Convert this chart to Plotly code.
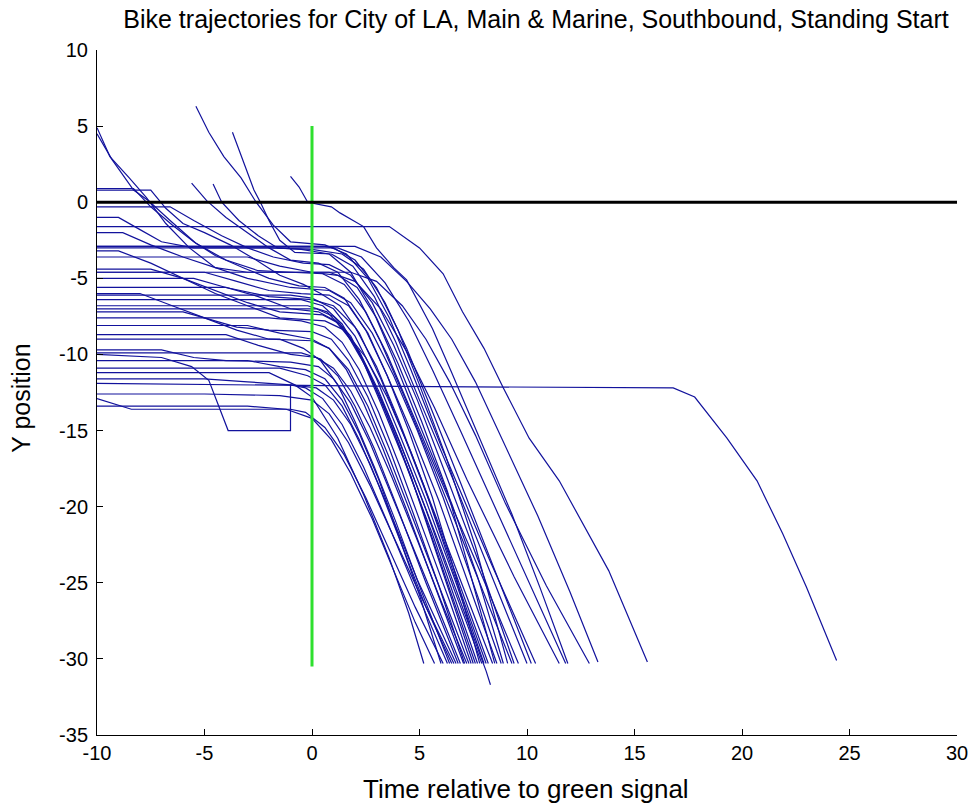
import plotly.graph_objects as go

# ---- data ----
x_ticks = [-10, -5, 0, 5, 10, 15, 20, 25, 30]
y_ticks = [-35, -30, -25, -20, -15, -10, -5, 0, 5, 10]

green_t = [0, 0]
green_y = [5, -30.5]
stop_t = [-10, 30]
stop_y = [0, 0]

t01 = [-10, 4, 16.8, 17.8, 19.3, 20.7, 21.9, 23.0, 24.4]
y01 = [-11.9, -12.1, -12.2, -12.8, -15.5, -18.3, -21.8, -25.3, -30.1]
t02 = [-10, 3.6, 5.0, 6.1, 7.0, 8.0, 8.9, 10.1, 11.5, 12.6, 13.8, 15.6]
y02 = [-1.6, -1.6, -3.0, -4.7, -7.2, -9.6, -12.2, -15.5, -18.3, -21.1, -24.2, -30.2]
t03 = [-10, 2.0, 3.2, 4.4, 5.5, 6.5, 7.6, 9.0, 10.5, 12.0, 13.3]
y03 = [-2.9, -2.9, -3.6, -5.2, -7.0, -9.0, -11.8, -16.0, -20.6, -25.6, -30.2]
t04 = [-10, 1.8, 3.0, 4.2, 5.3, 6.4, 7.6, 9.0, 10.9, 12.9]
y04 = [-4.6, -4.6, -5.2, -6.8, -9.0, -11.8, -15.3, -19.8, -25.2, -30.3]
t05 = [-1.0, -0.6, -0.2, 0.9, 1.3, 2.4, 3.0, 3.8, 4.4, 4.9, 5.6, 6.5, 7.8, 9.3, 10.6, 11.9]
y05 = [1.7, 1.0, 0.0, -0.3, -0.7, -1.6, -3.0, -4.3, -5.1, -6.4, -8.3, -11.2, -15.5, -20.5, -25.3, -30.3]
t06 = [-10, 1.2, 2.3, 3.4, 4.5, 5.6, 6.9, 8.5, 10.2, 11.8]
y06 = [-3.0, -3.0, -3.6, -5.3, -7.8, -11.0, -15.0, -20.0, -25.4, -30.3]
t07 = [-10, -9.4, -8.5, -7.7, -6.8, -5.7, -4.5, -3.0, 0.8, 2.0, 3.2, 4.4, 5.7, 7.2, 9.4, 11.5]
y07 = [4.9, 3.0, 1.6, 0.3, -1.4, -3.0, -4.3, -4.6, -4.6, -5.2, -7.0, -9.8, -13.5, -18.2, -24.6, -30.3]
t08 = [-5.4, -4.8, -4.1, -3.3, -2.6, -1.8, -1.0, 0.6, 1.6, 2.6, 3.6, 4.6, 6.0, 8.2, 10.4]
y08 = [6.3, 4.6, 3.0, 1.6, 0.0, -1.5, -2.6, -2.8, -3.4, -5.0, -7.6, -11.0, -16.0, -23.3, -30.3]
t09 = [-3.7, -3.2, -2.7, -2.4, -2.0, -1.5, -0.8, 0.9, 1.9, 2.9, 3.9, 5.0, 6.5, 8.2, 10.0]
y09 = [4.6, 2.7, 0.8, 0.0, -1.2, -2.5, -3.3, -3.4, -4.2, -6.2, -9.2, -13.0, -18.0, -24.0, -30.3]
t10 = [-10, -9.3, -8.3, -7.6, -6.6, -5.4, -4.0, -2.5, -1.0, 0.5, 1.5, 2.5, 3.5, 4.6, 6.0, 7.8, 9.6]
y10 = [4.5, 2.8, 0.8, 0.1, -1.2, -2.7, -3.8, -4.5, -4.6, -4.7, -5.4, -7.2, -10.0, -13.6, -18.3, -24.2, -30.3]
t11 = [-5.6, -4.9, -4.0, -3.0, -2.0, -1.0, 0.3, 1.2, 2.2, 3.2, 4.3, 5.7, 7.4, 9.3]
y11 = [1.25, 0.1, -1.0, -2.0, -3.0, -3.8, -4.0, -4.6, -6.4, -9.2, -12.8, -17.6, -23.6, -30.3]
t12 = [-4.6, -4.2, -3.4, -2.5, -1.6, -0.5, 0.8, 1.8, 2.8, 3.8, 5.0, 6.5, 7.7, 8.9]
y12 = [1.2, 0.0, -1.2, -2.2, -3.0, -3.1, -3.4, -4.6, -7.0, -10.3, -14.6, -19.8, -24.6, -30.3]
t13 = [-10, -8.3, -7.5, -6.5, -5.5, -4.5, -3.2, -2.0, -0.6, 0.6, 1.5, 2.5, 3.5, 4.6, 5.9, 7.2, 8.6]
y13 = [0.9, 0.9, -0.3, -1.5, -2.6, -3.5, -4.3, -5.0, -5.5, -5.6, -6.3, -8.4, -11.4, -15.0, -19.6, -24.8, -30.3]
t14 = [-10, -7.5, -6.8, -6.0, -5.0, -3.8, -2.6, -1.5, -0.4, 0.4, 1.3, 2.2, 3.2, 4.3, 5.5, 6.8, 8.2]
y14 = [0.8, 0.8, -0.4, -1.4, -2.0, -2.8, -3.8, -4.8, -5.4, -6.0, -6.8, -8.6, -11.6, -15.4, -19.8, -24.8, -30.3]
t15 = [-10, -1.0, 0.0, 1.0, 2.0, 3.0, 4.0, 5.3, 6.7, 8.0]
y15 = [-6.1, -6.1, -6.3, -7.0, -8.8, -11.6, -15.0, -19.6, -25.0, -30.3]
t16 = [-10, -0.5, 0.5, 1.4, 2.3, 3.2, 4.3, 5.6, 7.7]
y16 = [-6.4, -6.4, -6.8, -8.0, -10.2, -13.2, -17.0, -21.8, -30.3]
t17 = [-10, 0.2, 1.0, 1.8, 2.6, 3.5, 4.6, 6.0, 7.5]
y17 = [-7.0, -7.0, -7.5, -8.8, -11.0, -14.0, -18.0, -24.0, -30.3]
t18 = [-10, -6.0, -5.0, -3.5, -2.0, 0.0, 0.8, 1.7, 2.6, 3.6, 4.7, 6.0, 7.3]
y18 = [-7.2, -7.2, -7.6, -8.4, -9.0, -9.1, -9.6, -11.0, -13.4, -16.8, -20.8, -25.5, -30.3]
t19 = [-10, -3.0, -1.5, 0.0, 0.8, 1.6, 2.4, 3.3, 4.4, 5.7, 7.05]
y19 = [-8.1, -8.1, -8.6, -9.0, -9.6, -11.0, -13.2, -16.2, -20.2, -25.2, -30.3]
t20 = [-10, -0.5, 0.4, 1.2, 2.0, 2.9, 3.9, 5.3, 6.8]
y20 = [-9.9, -9.9, -10.3, -11.4, -13.4, -16.2, -19.8, -25.0, -30.3]
t21 = [-10, -1.5, -0.2, 0.6, 1.4, 2.2, 3.1, 4.2, 5.3, 6.5]
y21 = [-10.9, -10.9, -11.4, -12.0, -13.4, -15.6, -18.6, -22.6, -26.6, -30.3]
t22 = [-10, -2.0, -0.8, 0.0, 1.2, 2.4, 3.6, 4.5, 5.2]
y22 = [-11.2, -11.2, -12.0, -12.8, -15.5, -19.2, -23.4, -27.0, -30.3]
t23 = [-10, -8.4, -1.0, -0.3, 0.6, 1.5, 2.5, 3.6, 4.8, 6.1]
y23 = [-12.9, -13.6, -13.6, -13.8, -14.8, -16.6, -19.4, -22.8, -26.6, -30.3]
t24 = [-10, -7.0, -5.6, -4.8, -3.9, -1.0, -1.0, -0.3, 0.5, 1.4, 2.4, 3.5, 4.8, 6.3]
y24 = [-10.0, -10.2, -10.8, -11.7, -15.0, -15.0, -12.0, -12.2, -12.9, -14.6, -17.4, -21.0, -25.4, -30.3]
t25 = [-10, -5.0, -1.5, 0.0, 0.8, 1.7, 2.7, 3.8, 5.1, 6.6]
y25 = [-12.6, -12.6, -12.7, -13.0, -13.9, -15.8, -18.6, -22.0, -26.0, -30.3]
t26 = [-10, -4.0, -2.5, -1.0, 0.3, 1.1, 2.0, 2.9, 3.9, 5.0, 6.3, 7.6]
y26 = [-5.6, -5.6, -6.2, -7.0, -7.2, -7.8, -9.4, -12.0, -15.4, -19.6, -25.0, -30.3]
t27 = [-10, -7.5, -6.0, -4.5, -3.0, -1.5, 0.5, 1.3, 2.2, 3.1, 4.1, 5.3, 6.6, 7.9]
y27 = [-4.4, -4.4, -5.0, -5.8, -6.6, -7.2, -7.4, -8.0, -9.8, -12.4, -15.8, -20.2, -25.4, -30.3]
t28 = [-10, -9.0, -7.5, -6.0, -4.5, -3.0, -1.5, 0.6, 1.5, 2.5, 3.5, 4.6, 5.8, 7.1, 8.4]
y28 = [-3.2, -3.2, -4.0, -5.0, -6.0, -6.8, -7.6, -7.8, -8.4, -10.2, -12.8, -16.4, -20.8, -25.6, -30.3]
t29 = [-10, -4.0, -2.5, -1.0, 0.2, 1.0, 1.8, 2.7, 3.7, 4.9, 6.0, 7.2]
y29 = [-8.7, -8.7, -9.4, -10.0, -10.2, -10.9, -12.4, -14.8, -18.0, -22.2, -26.2, -30.3]
t30 = [-10, -7.0, -5.5, -4.0, -1.0, 0.3, 1.0, 1.8, 2.7, 3.7, 4.8, 5.9, 6.9]
y30 = [-9.7, -9.7, -10.2, -10.4, -10.5, -10.8, -11.6, -13.2, -15.8, -19.2, -23.0, -26.8, -30.3]
t31 = [-10, -5.5, -4.0, -2.0, 0.0, 1.0, 2.0, 3.0, 4.0, 5.2, 6.6, 8.1]
y31 = [-5.0, -5.0, -5.6, -6.2, -6.4, -6.8, -8.2, -10.8, -14.2, -18.6, -24.4, -30.3]
t32 = [-10, -2.0, -0.5, 0.6, 1.4, 2.2, 3.1, 4.1, 5.3, 6.4, 7.4]
y32 = [-7.6, -7.6, -7.8, -8.2, -9.2, -11.0, -13.8, -17.4, -22.0, -26.2, -30.3]
t33 = [-10, -8.8, -7.5, -6.0, -4.5, -3.0, -1.0, 0.8, 1.8, 2.8, 3.8, 4.9, 6.1, 7.4, 8.8]
y33 = [-2.0, -2.0, -2.8, -3.6, -4.3, -5.0, -5.6, -5.8, -6.6, -8.6, -11.4, -15.0, -19.4, -24.6, -30.3]
t34 = [-10, 0.6, 1.0, 2.0, 3.0, 4.0, 5.0, 6.2, 7.6, 9.1]
y34 = [-2.9, -2.9, -3.0, -3.8, -5.6, -8.4, -12.0, -16.6, -22.6, -30.3]
t35 = [-10, -0.2, 0.7, 1.6, 2.5, 3.5, 4.6, 5.8, 7.1, 7.8, 8.1, 8.3]
y35 = [-6.8, -6.8, -7.2, -8.6, -10.8, -13.8, -17.6, -22.0, -27.0, -29.6, -30.8, -31.7]
t36 = [-10, -3.0, -1.5, -0.3, 0.6, 1.4, 2.2, 3.1, 4.0, 5.0, 6.0]
y36 = [-10.4, -10.4, -10.8, -11.0, -11.6, -13.0, -15.2, -18.2, -21.8, -25.8, -30.3]
t37 = [-10, -5.0, -3.5, -2.0, -0.5, 0.8, 1.7, 2.6, 3.5, 4.5, 5.6, 6.7, 7.8]
y37 = [-4.6, -4.6, -5.2, -5.8, -6.0, -6.1, -6.8, -8.6, -11.4, -15.0, -19.4, -24.6, -30.3]
t38 = [-10, -6.6, -5.5, -4.2, -3.0, -1.8, -0.4, 0.8, 1.8, 2.8, 3.8, 4.9, 6.2, 7.8, 9.4]
y38 = [-0.3, -0.3, -1.2, -2.2, -3.0, -3.6, -4.0, -4.1, -4.8, -6.6, -9.4, -13.0, -17.8, -23.8, -30.3]
t39 = [-10, -9.0, -8.0, -7.0, -5.5, -2.0, 0.0, 1.4, 2.4, 3.4, 4.4, 5.5, 6.9, 8.6, 10.2]
y39 = [-1.0, -1.0, -1.8, -2.6, -3.0, -3.0, -3.1, -3.4, -4.4, -6.6, -9.6, -13.4, -18.4, -24.6, -30.3]
t40 = [-10, -1.5, -0.4, 0.4, 1.2, 2.0, 2.9, 3.9, 5.1, 6.4]
y40 = [-9.0, -9.0, -9.6, -10.4, -12.0, -14.4, -17.4, -21.0, -25.6, -30.3]
t41 = [-10, -3.0, -1.2, 0.0, 0.9, 1.8, 2.8, 3.8, 4.8, 5.7]
y41 = [-13.4, -13.4, -13.6, -14.2, -15.6, -17.8, -20.8, -24.2, -27.6, -30.3]
t42 = [-10, -8.0, -6.5, -5.0, -3.5, -2.0, 0.0, 0.9, 1.7, 2.6, 3.6, 4.7, 5.9, 7.1]
y42 = [-6.0, -6.0, -6.8, -7.6, -8.2, -8.4, -8.5, -9.0, -10.4, -12.8, -16.2, -20.4, -25.2, -30.3]
t43 = [-10, -3.0, -1.5, 0.0, 1.2, 2.1, 3.0, 4.0, 5.1, 6.3, 7.4, 8.5]
y43 = [-3.6, -3.6, -4.2, -4.6, -4.8, -5.6, -7.6, -10.6, -14.4, -19.0, -24.6, -30.3]
t44 = [-10, -5.0, -3.0, -1.0, 0.2, 1.0, 1.8, 2.7, 3.7, 4.9, 6.7]
y44 = [-11.6, -11.6, -11.8, -12.0, -12.2, -13.0, -14.6, -17.2, -20.6, -24.8, -30.3]

tracks_t = [t01, t02, t03, t04, t05, t06, t07, t08, t09, t10, t11, t12, t13, t14, t15,
            t16, t17, t18, t19, t20, t21, t22, t23, t24, t25, t26, t27, t28, t29, t30,
            t31, t32, t33, t34, t35, t36, t37, t38, t39, t40, t41, t42, t43, t44]
tracks_y = [y01, y02, y03, y04, y05, y06, y07, y08, y09, y10, y11, y12, y13, y14, y15,
            y16, y17, y18, y19, y20, y21, y22, y23, y24, y25, y26, y27, y28, y29, y30,
            y31, y32, y33, y34, y35, y36, y37, y38, y39, y40, y41, y42, y43, y44]

TRACK_COLOR = "#12129c"
FONT = "Liberation Sans"

FIG_W, FIG_H = 980, 808
PL, PR, PT, PB = 97, 965, 50, 735     # plot box in page px
PW, PH = PR - PL, PB - PT

fig = go.Figure()
for tt, yy in zip(tracks_t, tracks_y):
    fig.add_trace(go.Scatter(x=tt, y=yy, mode="lines",
                             line=dict(color=TRACK_COLOR, width=1.2),
                             hoverinfo="skip", showlegend=False))

fig.add_trace(go.Scatter(x=green_t, y=green_y, mode="lines",
                         line=dict(color="#2ee02e", width=3),
                         hoverinfo="skip", showlegend=False))
fig.add_trace(go.Scatter(x=stop_t, y=stop_y, mode="lines",
                         line=dict(color="black", width=3),
                         hoverinfo="skip", showlegend=False))

axis_common = dict(showgrid=False, zeroline=False, showline=True, linecolor="black",
                   linewidth=1, ticks="inside", ticklen=6, tickcolor="black",
                   mirror=False, tickfont=dict(family=FONT, size=20, color="black"))

fig.update_layout(
    width=FIG_W, height=FIG_H, autosize=False,
    margin=dict(l=PL, r=FIG_W - PR, t=PT, b=FIG_H - PB),
    paper_bgcolor="white", plot_bgcolor="white",
    hovermode=False,
    xaxis=dict(range=[-10, 30], tickvals=x_ticks, ticktext=[str(v) for v in x_ticks],
               ticklabeloverflow="allow", **axis_common),
    yaxis=dict(range=[-35, 10], tickvals=y_ticks, ticktext=[str(v) for v in y_ticks],
               ticklabelstandoff=4, **axis_common),
    title=dict(text="Bike trajectories for City of LA, Main &amp; Marine, Southbound, Standing Start",
               x=536 / FIG_W, xanchor="center", xref="container",
               y=1 - 19 / FIG_H, yanchor="middle", yref="container",
               font=dict(family=FONT, size=25, color="black")),
    annotations=[
        dict(text="Time relative to green signal", xref="paper", yref="paper",
             x=(530 - PL) / PW, y=-(789 - PB) / PH, xanchor="center", yanchor="middle",
             showarrow=False, font=dict(family=FONT, size=26, color="black")),
        dict(text="Y position", xref="paper", yref="paper",
             x=(20 - PL) / PW, y=(PB - 398) / PH, xanchor="center", yanchor="middle",
             textangle=-90, showarrow=False, font=dict(family=FONT, size=25, color="black")),
    ],
)

# remove the default 8px page margin so the figure sits at the window's top-left
page_fix = ("document.body.style.margin='0';"
            "document.body.style.overflow='hidden';")

fig.write_html("out.html", post_script=page_fix,
               config={"displayModeBar": False, "staticPlot": True})
